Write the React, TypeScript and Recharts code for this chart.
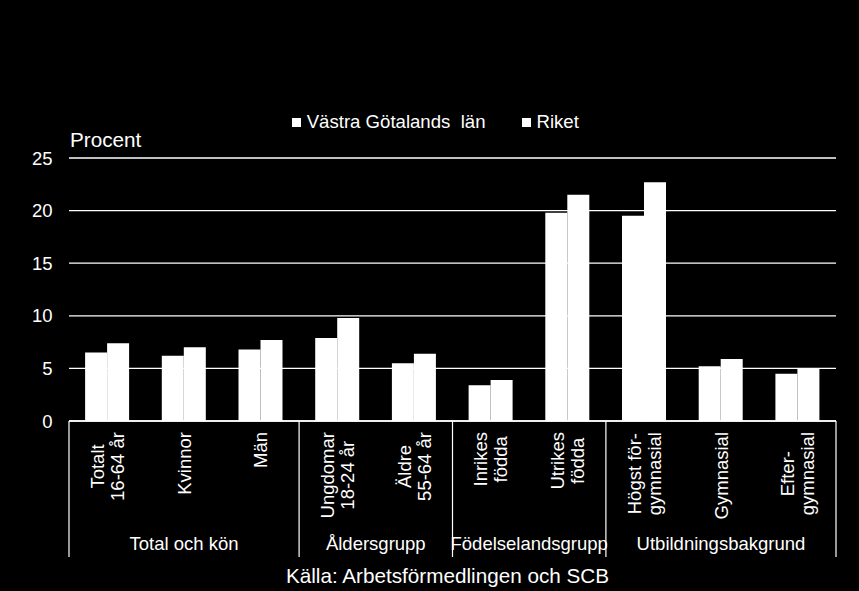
import React from 'react';
import { BarChart, Bar, XAxis, YAxis, CartesianGrid, Legend, Label } from 'recharts';

const categories = [
  'Totalt\n16-64 år',
  'Kvinnor',
  'Män',
  'Ungdomar\n18-24 år',
  'Äldre\n55-64 år',
  'Inrikes\nfödda',
  'Utrikes\nfödda',
  'Högst för-\ngymnasial',
  'Gymnasial',
  'Efter-\ngymnasial',
];
const vastraGotaland = [6.5, 6.2, 6.8, 7.9, 5.5, 3.4, 19.8, 19.5, 5.2, 4.5];
const riket = [7.4, 7.0, 7.7, 9.8, 6.4, 3.9, 21.5, 22.7, 5.9, 5.0];
const seriesNames = ['Västra Götalands  län', 'Riket'];
const groupNames = ['Total och kön', 'Åldersgrupp', 'Födelselandsgrupp', 'Utbildningsbakgrund'];
const groupSizes = [3, 2, 2, 3];
const yTicks = [0, 5, 10, 15, 20, 25];
const yAxisTitle = 'Procent';
const sourceText = 'Källa: Arbetsförmedlingen och SCB';

const data = categories.map((name, i) => ({ name, vg: vastraGotaland[i], riket: riket[i] }));

const FONT = "'Liberation Sans', Arial, sans-serif";
const LABEL_SIZE = 18.5;

let ctx: CanvasRenderingContext2D | null = null;
function measure(text: string, size: number): number {
  if (!ctx && typeof document !== 'undefined') {
    ctx = document.createElement('canvas').getContext('2d');
  }
  if (ctx) {
    ctx.font = `${size}px "Liberation Sans"`;
    return ctx.measureText(text).width;
  }
  return text.length * size * 0.55;
}

// group start indices
const groupStarts: number[] = [];
{
  let acc = 0;
  groupSizes.forEach((s) => {
    groupStarts.push(acc);
    acc += s;
  });
}

const CategoryTick = (props: any) => {
  const { x, y, index, width, visibleTicksCount } = props;
  const step = (width && visibleTicksCount ? width / visibleTicksCount : 76.7);
  const label: string = categories[index] ?? '';
  const lines = label.split('\n');
  const maxLen = Math.max(...lines.map((l) => measure(l, LABEL_SIZE)));
  const cy = y + 11 + maxLen / 2;
  const lineGap = 20;
  const elems: React.ReactNode[] = [];
  lines.forEach((l, i) => {
    const lc = x + (i - (lines.length - 1) / 2) * lineGap;
    const px = lc + 6.6;
    elems.push(
      <text
        key={'l' + i}
        x={px}
        y={cy}
        transform={`rotate(-90 ${px} ${cy})`}
        textAnchor="middle"
        fill="#fff"
        fontFamily={FONT}
        fontSize={LABEL_SIZE}
      >
        {l}
      </text>
    );
  });
  const g = groupStarts.indexOf(index);
  if (g >= 0) {
    const left = x - step / 2;
    elems.push(<line key="sepL" x1={left} x2={left} y1={y} y2={y + 136} stroke="#fff" strokeWidth={1.2} />);
    elems.push(
      <text
        key="grp"
        x={left + (groupSizes[g] * step) / 2}
        y={y + 129}
        textAnchor="middle"
        fill="#fff"
        fontFamily={FONT}
        fontSize={LABEL_SIZE}
      >
        {groupNames[g]}
      </text>
    );
  }
  if (index === categories.length - 1) {
    const right = x + step / 2;
    elems.push(<line key="sepR" x1={right} x2={right} y1={y} y2={y + 136} stroke="#fff" strokeWidth={1.2} />);
  }
  return <g>{elems}</g>;
};

const LegendContent = (props: any) => {
  const payload = [...(props.payload || [])].sort(
    (a: any, b: any) => seriesNames.indexOf(a.value) - seriesNames.indexOf(b.value)
  );
  return (
    <div
      style={{
        display: 'flex',
        alignItems: 'center',
        fontFamily: FONT,
        fontSize: 18.6,
        lineHeight: '20px',
        color: '#fff',
        whiteSpace: 'pre',
      }}
    >
      {payload.map((p: any, i: number) => (
        <div key={i} style={{ display: 'flex', alignItems: 'center', marginLeft: i ? 36 : 0 }}>
          <span style={{ width: 9, height: 9, background: '#fff', marginRight: 6, display: 'inline-block' }} />
          <span>{p.value}</span>
        </div>
      ))}
    </div>
  );
};

export default function App() {
  return (
    <div style={{ position: 'absolute', left: 0, top: 0, width: 859, height: 591, background: '#000', overflow: 'hidden' }}>
      <BarChart
        width={859}
        height={591}
        data={data}
        margin={{ top: 158, right: 23, bottom: 0, left: 0 }}
        barGap={0}
        barCategoryGap="21%"
      >
        <CartesianGrid vertical={false} stroke="#fff" strokeWidth={1.3} />
        <YAxis
          width={69}
          domain={[0, 25]}
          ticks={yTicks}
          axisLine={false}
          tickLine={false}
          tickSize={0}
          tickMargin={16.5}
          tick={{ fill: '#fff', fontSize: 18.5, fontFamily: FONT }}
        >
          <Label
            content={(p: any) => {
              const vb = p.viewBox || { x: 0, y: 158, width: 69 };
              return (
                <text x={vb.x + vb.width + 1} y={vb.y - 11.3} fill="#fff" fontFamily={FONT} fontSize={20.7}>
                  {yAxisTitle}
                </text>
              );
            }}
          />
        </YAxis>
        <XAxis
          dataKey="name"
          height={170}
          interval={0}
          axisLine={{ stroke: '#fff', strokeWidth: 1.3 }}
          tickLine={false}
          tickSize={0}
          tickMargin={0}
          tick={<CategoryTick />}
        >
          <Label
            content={(p: any) => {
              const vb = p.viewBox || { x: 69, y: 421, width: 767, height: 170 };
              return (
                <text
                  x={vb.x + vb.width / 2 - 5}
                  y={vb.y + vb.height - 8}
                  textAnchor="middle"
                  fill="#fff"
                  fontFamily={FONT}
                  fontSize={20.7}
                >
                  {sourceText}
                </text>
              );
            }}
          />
        </XAxis>
        <Legend
          layout="horizontal"
          verticalAlign="middle"
          align="center"
          itemSorter={null as any}
          content={<LegendContent />}
          wrapperStyle={{ top: 112, left: 291.7, width: 'auto' }}
        />
        <Bar dataKey="vg" name={seriesNames[0]} fill="#fff" isAnimationActive={false} />
        <Bar dataKey="riket" name={seriesNames[1]} fill="#fff" isAnimationActive={false} />
      </BarChart>
    </div>
  );
}
